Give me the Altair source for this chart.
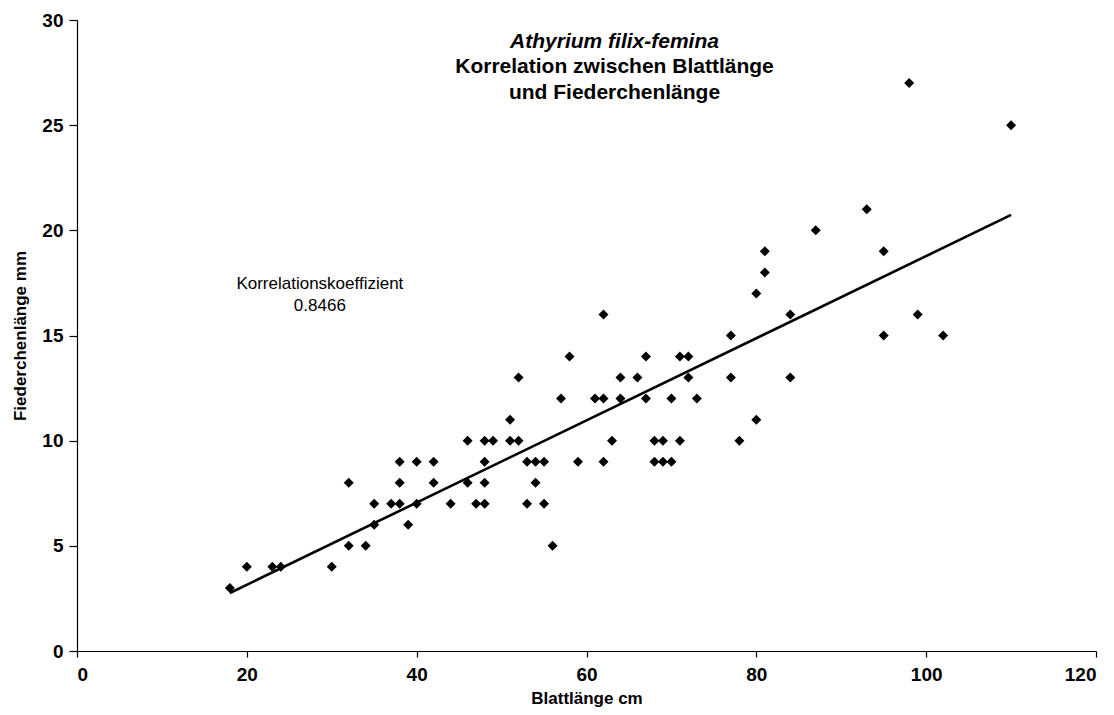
import altair as alt
import pandas as pd

blatt = [18, 20, 23, 24, 30, 32, 34, 32, 35, 35, 37, 38, 38, 38, 39, 40, 40, 42, 42, 44,
         46, 46, 47, 48, 48, 48, 48, 49, 51, 52, 51, 52, 53, 54, 55, 54, 53, 55, 56, 57,
         58, 59, 61, 62, 62, 62, 63, 64, 64, 66, 67, 67, 68, 69, 71, 68, 69, 70, 70, 71,
         72, 72, 73, 77, 77, 78, 80, 80, 81, 81, 84, 84, 87, 93, 95, 95, 98, 99, 102, 110]
fieder = [3, 4, 4, 4, 4, 5, 5, 8, 6, 7, 7, 7, 8, 9, 6, 7, 9, 9, 8, 7,
          10, 8, 7, 7, 8, 9, 10, 10, 10, 10, 11, 13, 9, 9, 9, 8, 7, 7, 5, 12,
          14, 9, 12, 12, 16, 9, 10, 13, 12, 13, 14, 12, 10, 10, 10, 9, 9, 9, 12, 14,
          14, 13, 12, 15, 13, 10, 11, 17, 18, 19, 16, 13, 20, 21, 19, 15, 27, 16, 15, 25]

note_x = [28.6]
note_y = [17.45]
note_text = [["Korrelationskoeffizient", "0.8466"]]

df = pd.DataFrame({"Blattlänge": blatt, "Fiederchenlänge": fieder})
notes = pd.DataFrame({"x": note_x, "y": note_y, "t": note_text})

FONT = "Liberation Sans, Arial, sans-serif"
NARROW = "Liberation Sans Narrow, Arial Narrow, Liberation Sans, sans-serif"

xenc = alt.X("Blattlänge:Q", scale=alt.Scale(domain=[0, 120], nice=False),
             axis=alt.Axis(title="Blattlänge cm", values=[0, 20, 40, 60, 80, 100, 120]))
yenc = alt.Y("Fiederchenlänge:Q", scale=alt.Scale(domain=[0, 30], nice=False),
             axis=alt.Axis(title="Fiederchenlänge mm", values=[0, 5, 10, 15, 20, 25, 30]))

points = alt.Chart(df).mark_point(shape="diamond", filled=True, color="black",
                                  size=100, opacity=1).encode(x=xenc, y=yenc)

line = alt.Chart(df).transform_regression(
    "Blattlänge", "Fiederchenlänge"
).mark_line(color="black", strokeWidth=2.6).encode(x="Blattlänge:Q", y="Fiederchenlänge:Q")

note = alt.Chart(notes).mark_text(font=FONT, fontSize=17, color="black",
                                  align="center", baseline="middle", lineHeight=22).encode(
    x="x:Q", y="y:Q", text="t")

chart = alt.layer(points, line, note).properties(
    width=1019, height=631,
    title=alt.TitleParams(
        text="Athyrium filix-femina",
        subtitle=["Korrelation zwischen Blattlänge", "und Fiederchenlänge"],
        font=FONT, fontSize=21, fontStyle="italic", fontWeight="bold", color="black",
        subtitleFont=FONT, subtitleFontSize=21, subtitleFontWeight="bold",
        subtitleColor="black", subtitleLineHeight=26, subtitlePadding=4,
        anchor="middle", frame="group", orient="top", offset=-92, dx=28,
    ),
    autosize=alt.AutoSizeParams(type="none"),
    padding={"left": 69, "top": 12, "right": 10, "bottom": 56},
).configure_view(stroke=None).configure_axis(
    grid=False, domainColor="black", tickColor="black", domainWidth=1.2, tickWidth=1.2,
    labelFont=NARROW, labelFontSize=19, labelFontWeight="bold",
    labelColor="black", titleFont=FONT, titleFontSize=17, titleFontWeight="bold",
    titleColor="black",
).configure_axisX(tickSize=6, labelPadding=8, titlePadding=6
).configure_axisY(tickSize=8, labelPadding=6, titlePadding=12)

chart.save("out.html", embed_options={"renderer": "svg", "actions": False})
